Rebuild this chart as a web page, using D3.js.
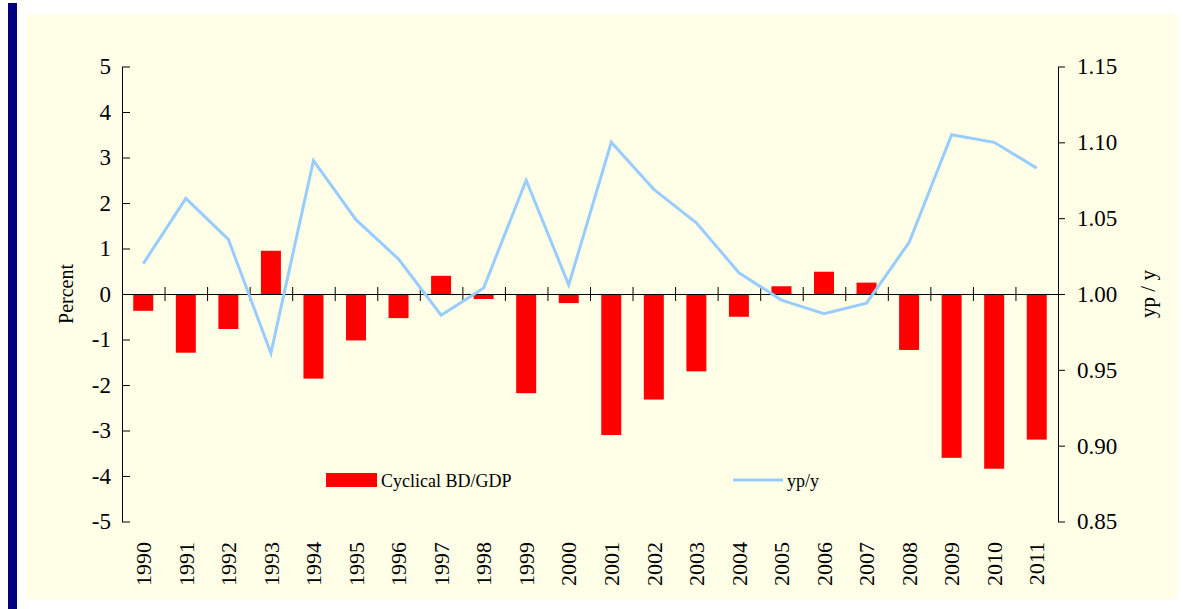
<!DOCTYPE html>
<html>
<head>
<meta charset="utf-8">
<script src="https://cdn.jsdelivr.net/npm/d3@7"></script>
<style>
  html, body { margin: 0; padding: 0; background: #ffffff; }
  svg { display: block; }
</style>
</head>
<body>
<div id="chart"></div>
<script>
const years = ["1990","1991","1992","1993","1994","1995","1996","1997","1998","1999","2000",
               "2001","2002","2003","2004","2005","2006","2007","2008","2009","2010","2011"];
const cyclicalBD = [-0.37, -1.29, -0.77, 0.95, -1.86, -1.02, -0.53, 0.40, -0.11, -2.18, -0.20,
                    -3.10, -2.32, -1.70, -0.50, 0.17, 0.49, 0.25, -1.23, -3.60, -3.84, -3.20];
const ypy = [1.020, 1.063, 1.036, 0.961, 1.088, 1.049, 1.023, 0.986, 1.004, 1.075, 1.006,
             1.100, 1.069, 1.047, 1.014, 0.996, 0.987, 0.994, 1.034, 1.105, 1.100, 1.083];
const leftTicks = [-5, -4, -3, -2, -1, 0, 1, 2, 3, 4, 5];
const rightTicks = [0.85, 0.90, 0.95, 1.00, 1.05, 1.10, 1.15];

function drawChart() {
    const width = 1183, height = 609;
    const font = "'Liberation Serif', 'Times New Roman', serif";

    const svg = d3.select("#chart")
        .append("svg")
        .attr("width", width)
        .attr("height", height);

    // frame: navy strip and pale yellow panel
    svg.append("rect").attr("x", 8).attr("y", 3).attr("width", 9).attr("height", height - 3)
        .attr("fill", "#000080");
    svg.append("rect").attr("x", 27).attr("y", 14).attr("width", 1150).attr("height", 585)
        .attr("fill", "#ffffe8");

    const left = 122, right = 1058, top = 66.5, bottom = 521.5;

    const x = d3.scaleBand().domain(years).range([left, right]).padding(0);
    const xi = d3.scaleLinear().domain([0, years.length]).range([left, right]);
    const yL = d3.scaleLinear().domain([-5, 5]).range([bottom, top]);
    const yR = d3.scaleLinear().domain([0.85, 1.15]).range([bottom, top]);

    const barW = x.bandwidth() * 0.47;

    // bars
    svg.append("g").selectAll("rect")
        .data(years)
        .enter()
        .append("rect")
        .attr("x", d => x(d) + x.bandwidth() / 2 - barW / 2)
        .attr("y", (d, i) => yL(Math.max(0, cyclicalBD[i])))
        .attr("width", barW)
        .attr("height", (d, i) => Math.abs(yL(cyclicalBD[i]) - yL(0)))
        .attr("fill", "#ff0000");

    // x axis along zero
    const gx = svg.append("g")
        .attr("transform", `translate(0,${yL(0)})`)
        .call(d3.axisBottom(xi).tickValues(d3.range(1, years.length + 1)).tickSize(7).tickSizeOuter(0).tickFormat(""));
    gx.selectAll(".tick line").attr("y1", -7);
    gx.selectAll("path, line").attr("stroke", "#000");

    // year labels
    svg.append("g").selectAll("text")
        .data(years)
        .enter()
        .append("text")
        .attr("transform", d => `translate(${x(d) + x.bandwidth() / 2 + 0.5},542) rotate(-90)`)
        .attr("dy", "0.33em")
        .attr("text-anchor", "end")
        .style("font-family", font)
        .style("font-size", "22px")
        .style("fill", "#000")
        .text(d => d);

    // line
    const line = d3.line()
        .x((d, i) => x(years[i]) + x.bandwidth() / 2)
        .y(d => yR(d));
    svg.append("path")
        .datum(ypy)
        .attr("d", line)
        .attr("fill", "none")
        .attr("stroke", "#99ccff")
        .attr("stroke-width", 3)
        .attr("stroke-linejoin", "miter");

    // left axis
    const gl = svg.append("g")
        .attr("transform", `translate(${left},0)`)
        .call(d3.axisLeft(yL).tickValues(leftTicks).tickSizeInner(8).tickSizeOuter(0).tickPadding(3).tickFormat(d => String(d)));
    gl.selectAll(".tick line").attr("x2", 8);
    gl.selectAll("path, line").attr("stroke", "#000");
    gl.selectAll("text").style("font-family", font).style("font-size", "23px").style("fill", "#000");

    // right axis
    const gr = svg.append("g")
        .attr("transform", `translate(${right},0)`)
        .call(d3.axisRight(yR).tickValues(rightTicks).tickSizeInner(7).tickSizeOuter(0).tickPadding(12).tickFormat(d => d.toFixed(2)));
    gr.selectAll("path, line").attr("stroke", "#000");
    gr.selectAll("text").style("font-family", font).style("font-size", "23px").style("fill", "#000");

    // axis titles
    svg.append("text")
        .attr("transform", `translate(73,${yL(0)}) rotate(-90)`)
        .attr("text-anchor", "middle")
        .style("font-family", font)
        .style("font-size", "20px")
        .text("Percent");

    svg.append("text")
        .attr("transform", `translate(1155,${yL(0)}) rotate(-90)`)
        .attr("text-anchor", "middle")
        .style("font-family", font)
        .style("font-size", "21px")
        .text("yp / y");

    // legend
    svg.append("rect").attr("x", 326).attr("y", 473).attr("width", 51).attr("height", 14)
        .attr("fill", "#ff0000");
    svg.append("text").attr("x", 381).attr("y", 487)
        .style("font-family", font).style("font-size", "18px")
        .text("Cyclical BD/GDP");
    svg.append("line").attr("x1", 733).attr("x2", 783).attr("y1", 480).attr("y2", 480)
        .attr("stroke", "#99ccff").attr("stroke-width", 3);
    svg.append("text").attr("x", 787).attr("y", 487)
        .style("font-family", font).style("font-size", "18px")
        .text("yp/y");
}

drawChart();
</script>
</body>
</html>
